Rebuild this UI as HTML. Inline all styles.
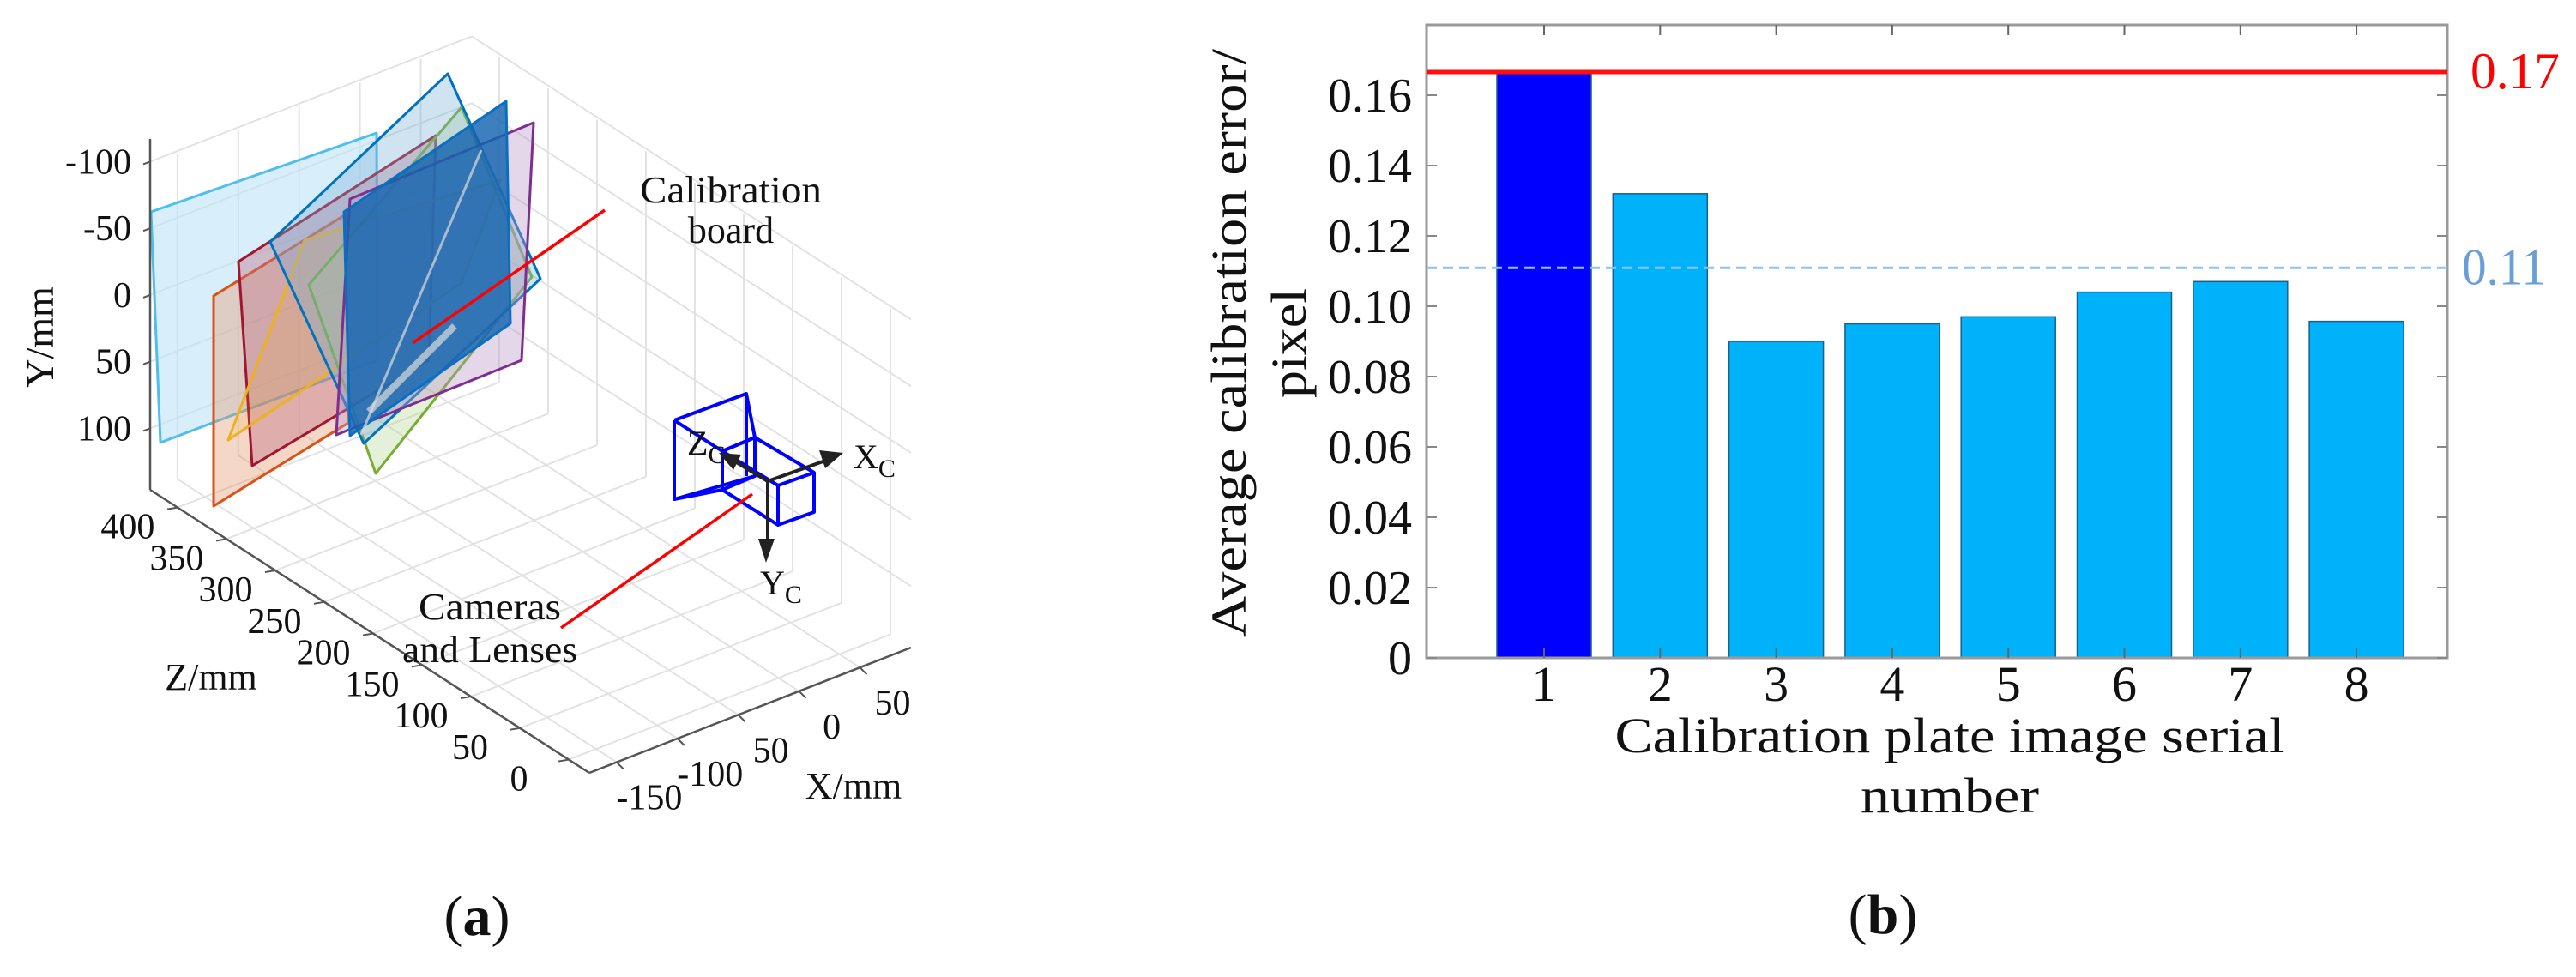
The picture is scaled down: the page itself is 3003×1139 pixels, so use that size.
<!DOCTYPE html>
<html><head><meta charset="utf-8"><style>
html,body{margin:0;padding:0;background:#fff;}
svg{display:block;}
text{font-family:"Liberation Serif",serif;}
</style></head><body>
<svg id="fig" width="3003" height="1139" viewBox="0 0 3003 1139" xmlns="http://www.w3.org/2000/svg">
<g id="panelA"></g>
<g id="panelB"></g>
</svg>
<script>
// ===== Panel (b) data =====
const categories = [1, 2, 3, 4, 5, 6, 7, 8];
const errorValues = [0.1666, 0.132, 0.090, 0.095, 0.097, 0.104, 0.107, 0.0957];
const yTicks = [0, 0.02, 0.04, 0.06, 0.08, 0.10, 0.12, 0.14, 0.16];
const yTickLabels = ["0", "0.02", "0.04", "0.06", "0.08", "0.10", "0.12", "0.14", "0.16"];
const maxLineValue = [0.1666];
const maxLineLabel = ["0.17"];
const meanLineValue = [0.1109];
const meanLineLabel = ["0.11"];

// ===== Panel (a) axis data =====
const xTicks3d = [-150, -100, -50, 0, 50];
const xTickLabels3d = ["-150", "-100", "50", "0", "50"];
const zTicks3d = [0, 50, 100, 150, 200, 250, 300, 350, 400];
const zTickLabels3d = ["0", "50", "100", "150", "200", "250", "300", "350", "400"];
const yTicks3d = [-100, -50, 0, 50, 100];
const yTickLabels3d = ["-100", "-50", "0", "50", "100"];

const NS = "http://www.w3.org/2000/svg";
function mk(parent, tag, attrs, txt) {
  const e = document.createElementNS(NS, tag);
  for (const k in attrs) e.setAttribute(k, attrs[k]);
  if (txt !== undefined) e.textContent = txt;
  parent.appendChild(e);
  return e;
}

// ---------- Panel B ----------
(function () {
  const g = document.getElementById("panelB");
  const L = 1663, R = 2853, T = 29, B = 767;
  const yMax = 0.18;
  const yS = v => B - v / yMax * (B - T);
  const x1 = 1800, step = 135.3;
  const xS = c => x1 + (c - 1) * step;
  const bw = 110;

  categories.forEach((c, i) => {
    const v = errorValues[i];
    const r = mk(g, "rect", {x: xS(c) - bw / 2, y: yS(v), width: bw, height: B - yS(v),
      fill: i === 0 ? "#0000FF" : "#00B2FA", stroke: "#1a5f8a", "stroke-width": 1.5});
    
    
  });

  const box = mk(g, "rect", {x: L, y: T, width: R - L, height: B - T, fill: "none", stroke: "#9a9a9a", "stroke-width": 3});
  
  

  yTicks.forEach((v, i) => {
    const y = yS(v);
    mk(g, "line", {x1: L, x2: L + 12, y1: y, y2: y, stroke: "#888", "stroke-width": 2});
    mk(g, "line", {x1: R - 12, x2: R, y1: y, y2: y, stroke: "#888", "stroke-width": 2});
    const t = mk(g, "text", {x: 1646, y: y + 19, "text-anchor": "end", "font-size": 56, fill: "#111"}, yTickLabels[i]);
    
    
  });
  categories.forEach(c => {
    const x = xS(c);
    mk(g, "line", {x1: x, x2: x, y1: B, y2: B - 12, stroke: "#666", "stroke-width": 2});
    mk(g, "line", {x1: x, x2: x, y1: T, y2: T + 12, stroke: "#666", "stroke-width": 2});
    const t = mk(g, "text", {x: x, y: 817, "text-anchor": "middle", "font-size": 58, fill: "#111"}, String(c));
    
    
  });

  const rl = mk(g, "line", {x1: L, x2: R, y1: yS(maxLineValue[0]), y2: yS(maxLineValue[0]), stroke: "#FF1010", "stroke-width": 5});
  
  
  const rt = mk(g, "text", {x: 2880, y: yS(maxLineValue[0]) + 19, "font-size": 60, fill: "#FF0000", textLength: 104, lengthAdjust: "spacingAndGlyphs"}, maxLineLabel[0]);
  
  
  const ml = mk(g, "line", {x1: L, x2: R, y1: yS(meanLineValue[0]), y2: yS(meanLineValue[0]), stroke: "#8cc6ee", "stroke-width": 3, "stroke-dasharray": "12 7"});
  
  
  const mt = mk(g, "text", {x: 2870, y: yS(meanLineValue[0]) + 19, "font-size": 60, fill: "#6a9fd6", textLength: 98, lengthAdjust: "spacingAndGlyphs"}, meanLineLabel[0]);
  
  

  const yt1 = mk(g, "text", {x: 0, y: 0, transform: "translate(1452,400) rotate(-90)", "text-anchor": "middle", "font-size": 58, fill: "#111", textLength: 686, lengthAdjust: "spacingAndGlyphs"}, "Average calibration error/");
  
  
  const yt2 = mk(g, "text", {x: 0, y: 0, transform: "translate(1522,400) rotate(-90)", "text-anchor": "middle", "font-size": 58, fill: "#111", textLength: 128, lengthAdjust: "spacingAndGlyphs"}, "pixel");
  
  
  const xt1 = mk(g, "text", {x: 2273, y: 877, "text-anchor": "middle", "font-size": 58, fill: "#111", textLength: 781, lengthAdjust: "spacingAndGlyphs"}, "Calibration plate image serial");
  
  
  const xt2 = mk(g, "text", {x: 2273, y: 947, "text-anchor": "middle", "font-size": 58, fill: "#111", textLength: 208, lengthAdjust: "spacingAndGlyphs"}, "number");
  
  
  const cap = mk(g, "text", {x: 2195, y: 1088, "text-anchor": "middle", "font-size": 66, fill: "#111"});
  cap.innerHTML = '(<tspan font-weight="bold">b</tspan>)';
  
  
})();

// ---------- Panel A ----------
(function () {
  const g = document.getElementById("panelA");
  const Bp = [687, 901], Cp = [1062, 755], Ap = [175, 571];
  const Xmin = -172.5, Xmax = 92, ZB = -21, ZA = 428;
  const Ybot = 146, Ytop = -98, yPx = 77.75 / 50;
  function P(X, Y, Z) {
    const fx = (X - Xmin) / (Xmax - Xmin), fz = (Z - ZB) / (ZA - ZB);
    const x = Bp[0] + fx * (Cp[0] - Bp[0]) + fz * (Ap[0] - Bp[0]);
    const y = Bp[1] + fx * (Cp[1] - Bp[1]) + fz * (Ap[1] - Bp[1]) + (Y - Ybot) * yPx;
    return [x, y];
  }
  function ln(a, b, col, w, name) {
    const l = mk(g, "line", {x1: a[0], y1: a[1], x2: b[0], y2: b[1], stroke: col, "stroke-width": w});
    
    
    return l;
  }
  const gc = "#e2e2e2";
  xTicks3d.forEach(X => ln(P(X, Ybot, ZB), P(X, Ybot, ZA), gc, 2, 'floor-grid-line'));
  zTicks3d.forEach(Z => ln(P(Xmin, Ybot, Z), P(Xmax, Ybot, Z), gc, 2, 'floor-grid-line'));
  xTicks3d.forEach(X => ln(P(X, Ybot, ZA), P(X, Ytop, ZA), gc, 2, 'wall-grid-line'));
  yTicks3d.forEach(Y => ln(P(Xmin, Y, ZA), P(Xmax, Y, ZA), gc, 2, 'wall-grid-line'));
  zTicks3d.forEach(Z => ln(P(Xmax, Ybot, Z), P(Xmax, Ytop, Z), gc, 2, 'wall-grid-line'));
  yTicks3d.forEach(Y => ln(P(Xmax, Y, ZB), P(Xmax, Y, ZA), gc, 2, 'wall-grid-line'));

  const planes = [
    {n: 'plane-cyan', s: "#4DBEEE", f: "rgba(190,228,248,0.6)", p: [[176,247],[439,155],[440,420],[187,516]]},
    {n: 'plane-orange', s: "#D95319", f: "rgba(230,150,110,0.38)", p: [[249,345],[403,250],[406,493],[249,590]]},
    {n: 'plane-darkred', s: "#A2142F", f: "rgba(190,110,130,0.4)", p: [[278,305],[508,158],[500,420],[294,543]]},
    {n: 'plane-yellow', s: "#EDB120", f: "rgba(237,177,32,0.15)", p: [[355,280],[583,210],[538,330],[266,513]]},
    {n: 'plane-green', s: "#77AC30", f: "rgba(170,205,130,0.3)", p: [[538,125],[620,323],[438,552],[360,332]]},
    {n: 'plane-blue', s: "#0072BD", f: "rgba(120,175,215,0.35)", p: [[522,86],[630,325],[424,517],[315,282]]},
    {n: 'plane-purple', s: "#7E2F8E", f: "rgba(185,150,200,0.38)", p: [[622,143],[608,420],[392,507],[408,232]]},
    {n: 'plane-darkblue', s: "#0a6fc0", f: "rgba(20,100,175,0.82)", p: [[590,118],[595,377],[408,508],[401,247]]}
  ];
  planes.forEach(pl => {
    const e = mk(g, "polygon", {points: pl.p.map(q => q.join(",")).join(" "), fill: pl.f, stroke: pl.s, "stroke-width": 3, "stroke-linejoin": "round"});
    
    
  });
  ln([561,175],[421,507],"rgba(220,220,220,0.7)",3,'plane-highlight-line');
  ln([530,380],[430,480],"rgba(220,220,220,0.7)",8,'plane-highlight-line');

  ln(Ap, [175, 162], "#555", 2.5, 'y-axis-line');
  ln(Ap, Bp, "#555", 2.5, 'z-axis-line');
  ln(Bp, Cp, "#555", 2.5, 'x-axis-line');

  yTicks3d.forEach((Y, i) => {
    const p = P(Xmin, Y, ZA);
    ln(p, [p[0] - 8, p[1] + 3], "#555", 2, 'y-tick');
    const t = mk(g, "text", {x: 153, y: p[1] + 14, "text-anchor": "end", "font-size": 42, fill: "#111"}, yTickLabels3d[i]);
    
    
  });
  zTicks3d.forEach((Z, i) => {
    const p = P(Xmin, Ybot, Z);
    ln(p, [p[0] - 12, p[1] + 2], "#555", 2, 'z-tick');
    const t = mk(g, "text", {x: p[0] - 58, y: p[1] + 36, "text-anchor": "middle", "font-size": 42, fill: "#111"}, zTickLabels3d[i]);
    
    
  });
  xTicks3d.forEach((X, i) => {
    const p = P(X, Ybot, ZB);
    ln(p, [p[0] + 8, p[1] + 8], "#555", 2, 'x-tick');
    const t = mk(g, "text", {x: p[0] + 38, y: p[1] + 55, "text-anchor": "middle", "font-size": 42, fill: "#111"}, xTickLabels3d[i]);
    
    
  });

  const ya = mk(g, "text", {x: 0, y: 0, transform: "translate(62,393) rotate(-90)", "text-anchor": "middle", "font-size": 46, fill: "#111"}, "Y/mm");
  
  
  const za = mk(g, "text", {x: 246, y: 804, "text-anchor": "middle", "font-size": 44, fill: "#111"}, "Z/mm");
  
  
  const xa = mk(g, "text", {x: 995, y: 931, "text-anchor": "middle", "font-size": 44, fill: "#111"}, "X/mm");
  
  

  const cam = mk(g, "g", {fill: "none", stroke: "#0000FF", "stroke-width": 4, "stroke-linejoin": "round"});
  
  
  mk(cam, "polyline", {points: "786,490 870,459 880,510 880,555 786,582 786,490"});
  mk(cam, "polyline", {points: "786,490 842,526 880,510"});
  mk(cam, "polyline", {points: "786,582 842,571 880,555"});
  mk(cam, "polygon", {points: "842,526 880,510 949,551 949,597 907,612 842,571"});
  mk(cam, "polyline", {points: "842,526 907,566 949,551"});
  mk(cam, "line", {x1: 907, y1: 566, x2: 907, y2: 612});
  mk(cam, "line", {x1: 870, y1: 459, x2: 870, y2: 555});

  const ax = mk(g, "g", {stroke: "#222", "stroke-width": 4, fill: "#222"});
  
  
  mk(ax, "line", {x1: 895, y1: 561, x2: 965, y2: 536});
  mk(ax, "polygon", {points: "983,528 955,525 962,546", stroke: "none"});
  mk(ax, "line", {x1: 895, y1: 561, x2: 895, y2: 636});
  mk(ax, "polygon", {points: "893,656 884,628 903,628", stroke: "none"});
  mk(ax, "line", {x1: 895, y1: 561, x2: 852, y2: 535});
  mk(ax, "polygon", {points: "838,528 864,530 855,548", stroke: "none"});
  const xc = mk(g, "text", {x: 995, y: 546, "font-size": 40, fill: "#111"});
  xc.innerHTML = 'X<tspan font-size="30" dy="10">C</tspan>';
  
  
  const yc = mk(g, "text", {x: 886, y: 693, "font-size": 40, fill: "#111"});
  yc.innerHTML = 'Y<tspan font-size="30" dy="10">C</tspan>';
  
  
  const zc = mk(g, "text", {x: 801, y: 530, "font-size": 40, fill: "#111"});
  zc.innerHTML = 'Z<tspan font-size="30" dy="10">C</tspan>';
  
  

  ln([705,245],[481,400],"#FF0000",3.5,'calibration-board-pointer');
  ln([877,576],[654,732],"#FF0000",3.5,'camera-pointer');
  const a1 = mk(g, "text", {x: 852, y: 236, "text-anchor": "middle", "font-size": 44, fill: "#111", textLength: 212, lengthAdjust: "spacingAndGlyphs"}, "Calibration");
  
  
  const a2 = mk(g, "text", {x: 852, y: 283, "text-anchor": "middle", "font-size": 44, fill: "#111"}, "board");
  
  
  const c1 = mk(g, "text", {x: 571, y: 722, "text-anchor": "middle", "font-size": 44, fill: "#111", textLength: 166, lengthAdjust: "spacingAndGlyphs"}, "Cameras");
  
  
  const c2 = mk(g, "text", {x: 571, y: 772, "text-anchor": "middle", "font-size": 44, fill: "#111", textLength: 204, lengthAdjust: "spacingAndGlyphs"}, "and Lenses");
  
  

  const cap = mk(g, "text", {x: 556, y: 1090, "text-anchor": "middle", "font-size": 66, fill: "#111"});
  cap.innerHTML = '(<tspan font-weight="bold">a</tspan>)';
  
  
})();
</script>
</body></html>
